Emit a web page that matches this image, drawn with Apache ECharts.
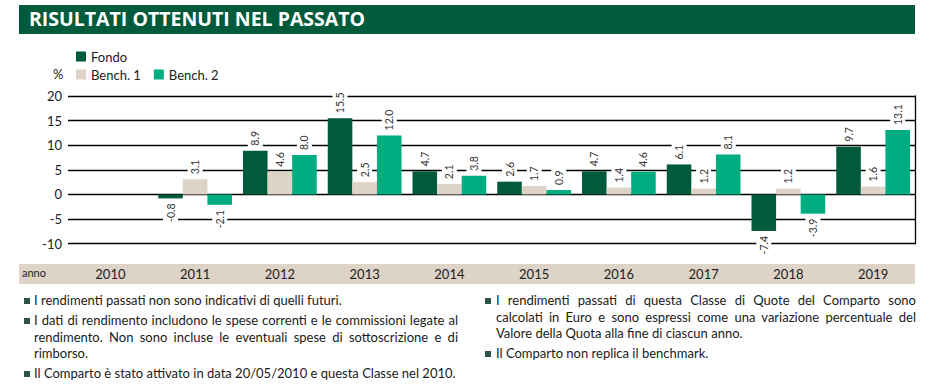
<!DOCTYPE html>
<html><head><meta charset="utf-8">
<script src="https://cdn.jsdelivr.net/npm/echarts/dist/echarts.min.js"></script>
<style>
html,body{margin:0;padding:0;background:#fff;}
#chart{position:absolute;left:0;top:0;width:951px;height:385px;}
.notes{position:absolute;top:292px;font-family:Lato,'Open Sans',sans-serif;font-size:13px;line-height:16.5px;color:#1a1a1a;}
.notes p{margin:0 0 3.5px 0;position:relative;text-align:justify;}
.notes p:before{content:'';position:absolute;left:0;top:5.5px;width:6px;height:6px;background:#2f5446;}
#notesL{left:24px;width:434px;}
#notesL p{padding-left:10px;}
#notesR{left:485px;width:431px;}
#notesR p{padding-left:11px;}
</style></head>
<body>
<div id="chart"></div>
<div class="notes" id="notesL">
<p>I rendimenti passati non sono indicativi di quelli futuri.</p>
<p>I dati di rendimento includono le spese correnti e le commissioni legate al rendimento. Non sono incluse le eventuali spese di sottoscrizione e di rimborso.</p>
<p>Il Comparto è stato attivato in data 20/05/2010 e questa Classe nel 2010.</p>
</div>
<div class="notes" id="notesR">
<p>I rendimenti passati di questa Classe di Quote del Comparto sono calcolati in Euro e sono espressi come una variazione percentuale del Valore della Quota alla fine di ciascun anno.</p>
<p>Il Comparto non replica il benchmark.</p>
</div>
<script>
const years = ['2010','2011','2012','2013','2014','2015','2016','2017','2018','2019'];
const fondo  = [null, -0.8, 8.9, 15.5, 4.7, 2.6, 4.7, 6.1, -7.4, 9.7];
const bench1 = [null, 3.1, 4.6, 2.5, 2.1, 1.7, 1.4, 1.2, 1.2, 1.6];
const bench2 = [null, -2.1, 8.0, 12.0, 3.8, 0.9, 4.6, 8.1, -3.9, 13.1];
const yTicks = {min: -10, max: 20, interval: 5};

const FONT = "Lato, 'Open Sans', sans-serif";
function items(arr){
  return arr.map(v => {
    if (v === null) return null;
    if (v < 0) return {value: v, label: {position: 'bottom', align: 'right'}};
    return {value: v};
  });
}
function mkSeries(name, arr, color){
  return {
    name: name, type: 'bar', data: items(arr),
    barGap: '0%', barCategoryGap: '13%',
    itemStyle: {color: color},
    label: {
      show: true, position: 'top', rotate: 90, align: 'left', verticalAlign: 'middle',
      distance: 3, fontSize: 10.5, fontFamily: FONT, color: '#333',
      backgroundColor: '#fff', padding: [2, 2],
      formatter: p => p.value.toFixed(1)
    }
  };
}
const chart = echarts.init(document.getElementById('chart'), null, {renderer: 'svg'});
chart.setOption({
  animation: false,
  textStyle: {fontFamily: FONT},
  grid: {left: 68, right: 35.5, top: 96, bottom: 141.3},
  legend: [
    {data: ['Fondo'], left: 76, top: 50, padding: 0, icon: 'rect', itemWidth: 10, itemHeight: 10, itemGap: 13,
     textStyle: {fontSize: 13, color: '#222', fontFamily: FONT}, selectedMode: false},
    {data: ['Bench. 1', 'Bench. 2'], left: 76, top: 68, padding: 0, icon: 'rect', itemWidth: 10, itemHeight: 10, itemGap: 13,
     textStyle: {fontSize: 13, color: '#222', fontFamily: FONT}, selectedMode: false}
  ],
  graphic: [
    {type: 'rect', left: 19, top: 5, shape: {width: 896, height: 29}, style: {fill: '#005a3c'}, z: -10},
    {type: 'text', left: 29, top: 8, style: {text: 'RISULTATI OTTENUTI NEL PASSATO', fill: '#fff', font: "bold 19.5px 'Open Sans', sans-serif"}},
    {type: 'text', left: 53, top: 67, style: {text: '%', fill: '#222', font: "13px Lato, 'Open Sans', sans-serif"}},
    {type: 'rect', left: 19, top: 264, shape: {width: 896, height: 20}, style: {fill: '#ddd3c7'}, z: -10},
    {type: 'text', left: 22, top: 267, style: {text: 'anno', fill: '#222', font: "11px Lato, 'Open Sans', sans-serif"}}
  ],
  xAxis: {
    type: 'category', data: years,
    axisLine: {show: false}, axisTick: {show: false},
    axisLabel: {margin: 24, fontSize: 13, color: '#222', fontFamily: FONT}
  },
  yAxis: [
    {type: 'value', min: yTicks.min, max: yTicks.max, interval: yTicks.interval,
     axisLine: {show: false}, axisTick: {show: false},
     axisLabel: {fontSize: 13, color: '#222', margin: 6, fontFamily: FONT},
     splitLine: {lineStyle: {color: '#000', width: 1.3}}},
    {type: 'value', position: 'right', min: yTicks.min, max: yTicks.max, interval: yTicks.interval,
     axisLine: {show: true, lineStyle: {color: '#000', width: 1.3}}, axisTick: {show: false},
     axisLabel: {show: false}, splitLine: {show: false}}
  ],
  series: [
    mkSeries('Fondo', fondo, '#005a3c'),
    mkSeries('Bench. 1', bench1, '#ddd3c7'),
    mkSeries('Bench. 2', bench2, '#00ad80')
  ]
});
</script>
</body></html>
